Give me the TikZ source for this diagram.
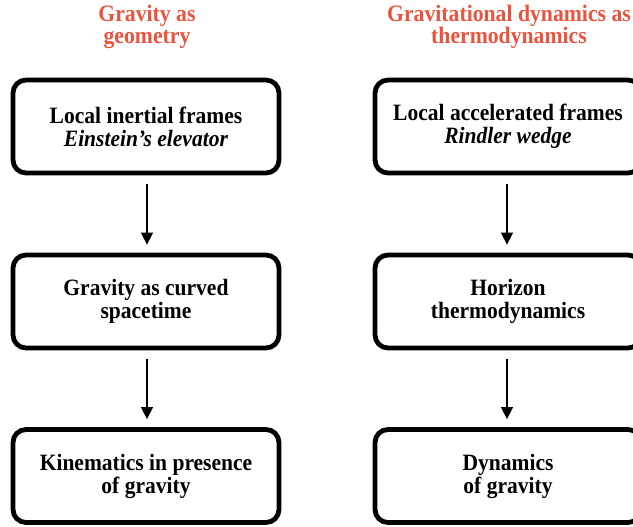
\documentclass[tikz,border=0pt]{standalone}
\usepackage{fontspec}
\setmainfont{Liberation Serif}[FakeStretch=0.92]
\usetikzlibrary{arrows.meta}
\definecolor{titlered}{RGB}{234,84,62}
\tikzset{
  box/.style={draw=black, line width=4.8pt, rounded corners=13pt,
    minimum width=266pt, minimum height=93pt, inner sep=0pt, align=center,
    font=\fontsize{23.4}{23}\selectfont\bfseries},
  coltitle/.style={text=titlered, align=center, inner sep=0pt,
    font=\fontsize{23.6}{22}\selectfont\bfseries},
  flow/.style={-{Triangle[width=12pt,length=12pt]}, line width=1.5pt,
    shorten <=9pt, shorten >=8pt}
}
\begin{document}
\begin{tikzpicture}[x=1pt,y=1pt]
\useasboundingbox (0,0) rectangle (633,-527);
\node[coltitle] (t1) at (147,-27) {Gravity as\\geometry};
\node[coltitle] (t2) at (509,-27) {Gravitational dynamics as\\thermodynamics};

\node[box] (a1) at (146,-126.5) {Local inertial frames\\\textit{Einstein's elevator}};
\node[box] (a2) at (146,-301.5) {Gravity as curved\\spacetime};
\node[box] (a3) at (146,-476) {Kinematics in presence\\of gravity};

\node[box] (b1) at (508,-126.5) {Local accelerated frames\\\textit{Rindler wedge}};
\node[box] (b2) at (508,-301.5) {Horizon\\thermodynamics};
\node[box] (b3) at (508,-476) {Dynamics\\of gravity};

\draw[flow] ([xshift=1pt]a1.south) -- ([xshift=1pt]a2.north);
\draw[flow] ([xshift=1pt]a2.south) -- ([xshift=1pt]a3.north);
\draw[flow] ([xshift=-1pt]b1.south) -- ([xshift=-1pt]b2.north);
\draw[flow] ([xshift=-1pt]b2.south) -- ([xshift=-1pt]b3.north);
\end{tikzpicture}
\end{document}
